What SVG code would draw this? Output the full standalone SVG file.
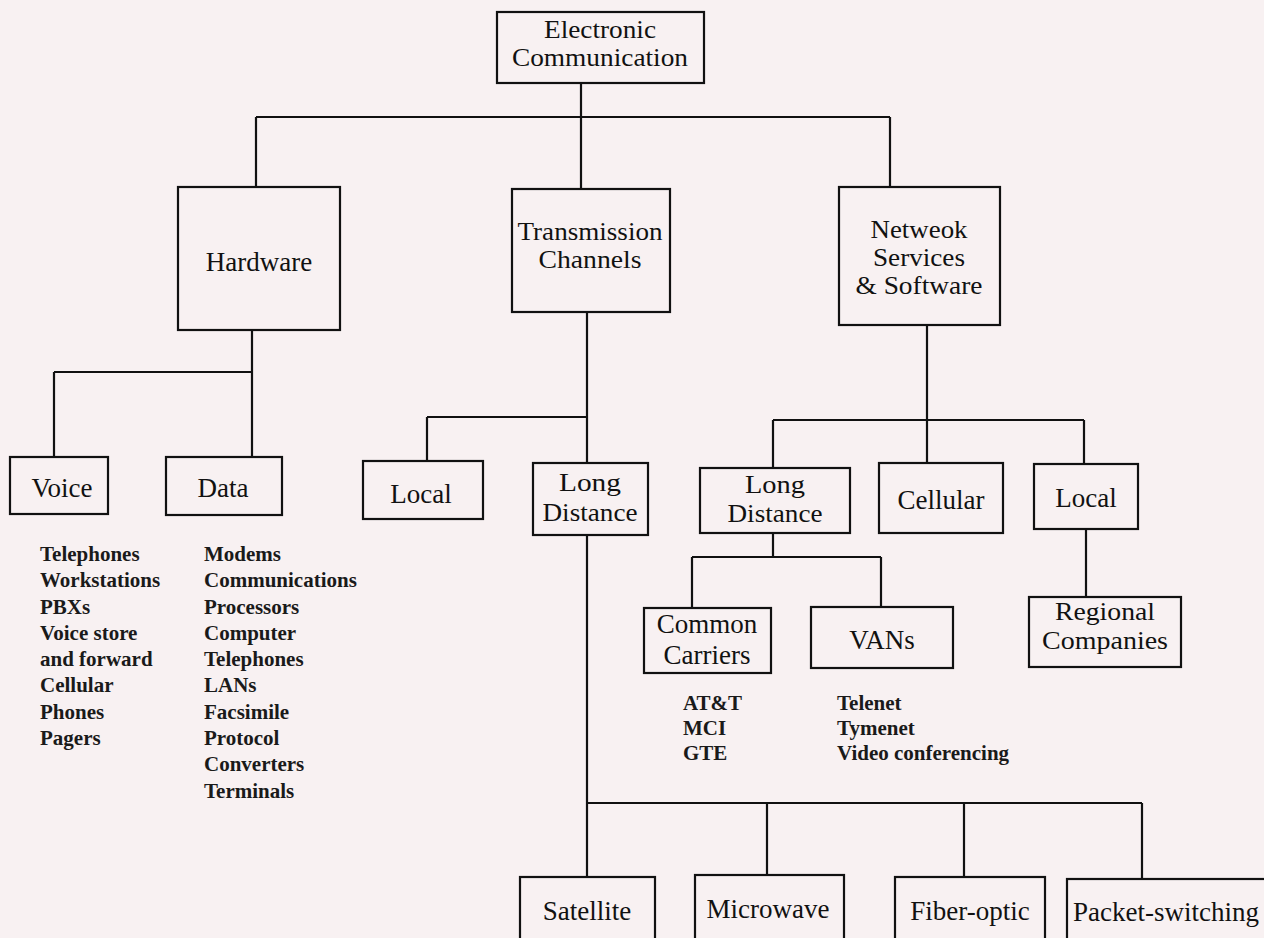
<svg xmlns="http://www.w3.org/2000/svg" width="1264" height="938" viewBox="0 0 1264 938">
  <style>
    .box { fill: none; stroke: #111; stroke-width: 2.2; }
    .wire { fill: none; stroke: #111; stroke-width: 2.2; }
    .nd { font-family: "Liberation Serif", "DejaVu Serif", serif; font-size: 27px; fill: #111; text-anchor: middle; }
    .ml { font-family: "Liberation Serif", "DejaVu Serif", serif; font-size: 25px; fill: #111; text-anchor: middle; }
    .ls { font-family: "Liberation Serif", "DejaVu Serif", serif; font-size: 21px; font-weight: bold; fill: #1a1a1a; }
  </style>
  <rect width="1264" height="938" fill="#f8f1f2"/>

  <g id="connectors">
    <!-- root to first level -->
    <path class="wire" d="M581 83 V189 M256 117 H890 M256 117 V187 M890 117 V187"/>
    <!-- hardware branch -->
    <path class="wire" d="M252 330 V372 M54 372 H252 M54 372 V457 M252 372 V457"/>
    <!-- transmission branch -->
    <path class="wire" d="M587 312 V463 M427 417 H587 M427 417 V461"/>
    <!-- long distance to media -->
    <path class="wire" d="M587 535 V877 M587 803 H1142 M767 803 V875 M964 803 V877 M1142 803 V879"/>
    <!-- network services branch -->
    <path class="wire" d="M927 325 V463 M773 420 H1084 M773 420 V468 M1084 420 V464"/>
    <path class="wire" d="M773 533 V557 M692 557 H881 M692 557 V608 M881 557 V607"/>
    <path class="wire" d="M1086 529 V597"/>
  </g>

  <g id="electronic-communication">
    <rect class="box" x="497" y="12" width="207" height="71"/>
    <text class="ml" x="600" y="38" textLength="112" lengthAdjust="spacingAndGlyphs">Electronic</text>
    <text class="ml" x="600" y="66" textLength="176" lengthAdjust="spacingAndGlyphs">Communication</text>
  </g>

  <g id="hardware">
    <rect class="box" x="178" y="187" width="162" height="143"/>
    <text class="nd" x="259" y="271">Hardware</text>
  </g>

  <g id="transmission-channels">
    <rect class="box" x="512" y="189" width="158" height="123"/>
    <text class="ml" x="590" y="240" textLength="145" lengthAdjust="spacingAndGlyphs">Transmission</text>
    <text class="ml" x="590" y="268" textLength="103" lengthAdjust="spacingAndGlyphs">Channels</text>
  </g>

  <g id="network-services">
    <rect class="box" x="839" y="187" width="161" height="138"/>
    <text class="ml" x="919" y="238" textLength="97" lengthAdjust="spacingAndGlyphs">Netweok</text>
    <text class="ml" x="919" y="266" textLength="92" lengthAdjust="spacingAndGlyphs">Services</text>
    <text class="ml" x="919" y="294" textLength="127" lengthAdjust="spacingAndGlyphs">&amp; Software</text>
  </g>

  <g id="voice">
    <rect class="box" x="10" y="457" width="98" height="57"/>
    <text class="nd" x="62" y="497">Voice</text>
  </g>
  <g id="voice-items">
    <text class="ls" x="40" y="561">Telephones</text>
    <text class="ls" x="40" y="587">Workstations</text>
    <text class="ls" x="40" y="614">PBXs</text>
    <text class="ls" x="40" y="640">Voice store</text>
    <text class="ls" x="40" y="666">and forward</text>
    <text class="ls" x="40" y="692">Cellular</text>
    <text class="ls" x="40" y="719">Phones</text>
    <text class="ls" x="40" y="745">Pagers</text>
  </g>

  <g id="data">
    <rect class="box" x="166" y="457" width="116" height="58"/>
    <text class="nd" x="223" y="497">Data</text>
  </g>
  <g id="data-items">
    <text class="ls" x="204" y="561">Modems</text>
    <text class="ls" x="204" y="587">Communications</text>
    <text class="ls" x="204" y="614">Processors</text>
    <text class="ls" x="204" y="640">Computer</text>
    <text class="ls" x="204" y="666">Telephones</text>
    <text class="ls" x="204" y="692">LANs</text>
    <text class="ls" x="204" y="719">Facsimile</text>
    <text class="ls" x="204" y="745">Protocol</text>
    <text class="ls" x="204" y="771">Converters</text>
    <text class="ls" x="204" y="798">Terminals</text>
  </g>

  <g id="tc-local">
    <rect class="box" x="363" y="461" width="120" height="58"/>
    <text class="nd" x="421" y="503">Local</text>
  </g>

  <g id="tc-long-distance">
    <rect class="box" x="533" y="463" width="115" height="72"/>
    <text class="ml" x="590" y="491" textLength="62" lengthAdjust="spacingAndGlyphs">Long</text>
    <text class="ml" x="590" y="521" textLength="95" lengthAdjust="spacingAndGlyphs">Distance</text>
  </g>

  <g id="ns-long-distance">
    <rect class="box" x="700" y="468" width="150" height="65"/>
    <text class="ml" x="775" y="493" textLength="60" lengthAdjust="spacingAndGlyphs">Long</text>
    <text class="ml" x="775" y="522" textLength="95" lengthAdjust="spacingAndGlyphs">Distance</text>
  </g>

  <g id="cellular">
    <rect class="box" x="879" y="463" width="124" height="70"/>
    <text class="nd" x="941" y="509">Cellular</text>
  </g>

  <g id="ns-local">
    <rect class="box" x="1034" y="464" width="104" height="65"/>
    <text class="nd" x="1086" y="507">Local</text>
  </g>

  <g id="common-carriers">
    <rect class="box" x="644" y="608" width="127" height="65"/>
    <text class="nd" x="707" y="633">Common</text>
    <text class="nd" x="707" y="664">Carriers</text>
  </g>
  <g id="carrier-items">
    <text class="ls" x="683" y="710">AT&amp;T</text>
    <text class="ls" x="683" y="735">MCI</text>
    <text class="ls" x="683" y="760">GTE</text>
  </g>

  <g id="vans">
    <rect class="box" x="811" y="607" width="142" height="61"/>
    <text class="nd" x="882" y="649">VANs</text>
  </g>
  <g id="van-items">
    <text class="ls" x="837" y="710">Telenet</text>
    <text class="ls" x="837" y="735">Tymenet</text>
    <text class="ls" x="837" y="760">Video conferencing</text>
  </g>

  <g id="regional-companies">
    <rect class="box" x="1029" y="597" width="152" height="70"/>
    <text class="ml" x="1105" y="620" textLength="100" lengthAdjust="spacingAndGlyphs">Regional</text>
    <text class="ml" x="1105" y="649" textLength="126" lengthAdjust="spacingAndGlyphs">Companies</text>
  </g>

  <g id="satellite">
    <rect class="box" x="520" y="877" width="135" height="70"/>
    <text class="nd" x="587" y="920">Satellite</text>
  </g>
  <g id="microwave">
    <rect class="box" x="695" y="875" width="149" height="70"/>
    <text class="nd" x="768" y="918">Microwave</text>
  </g>
  <g id="fiber-optic">
    <rect class="box" x="895" y="877" width="150" height="70"/>
    <text class="nd" x="970" y="920">Fiber-optic</text>
  </g>
  <g id="packet-switching">
    <rect class="box" x="1067" y="879" width="200" height="70"/>
    <text class="nd" x="1166" y="921">Packet-switching</text>
  </g>
</svg>
